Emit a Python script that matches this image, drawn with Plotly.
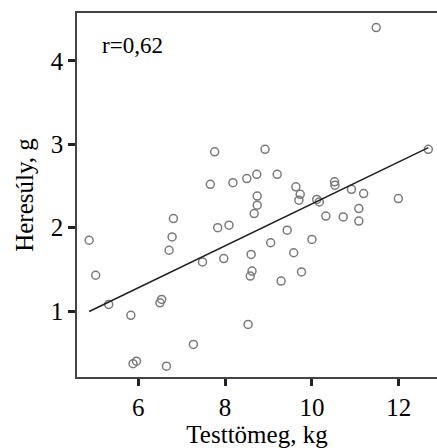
import numpy as np
import plotly.graph_objects as go

# Body mass (kg) and testis weight (g)
testtomeg = [4.87, 5.02, 5.32, 5.83, 5.88, 5.96, 6.65, 6.50, 6.54, 6.71, 6.78, 6.81,
             7.27, 7.48, 7.66, 7.76, 7.83, 7.97, 8.09, 8.18, 8.50, 8.53, 8.58, 8.62,
             8.60, 8.67, 8.74, 8.74, 8.73, 8.92, 9.05, 9.20, 9.29, 9.43, 9.58, 9.63,
             9.73, 9.70, 9.76, 10.00, 10.11, 10.17, 10.32, 10.52, 10.53, 10.72, 10.91,
             11.08, 11.08, 11.19, 11.48, 11.99, 12.68]
heresuly = [1.85, 1.43, 1.08, 0.95, 0.37, 0.40, 0.34, 1.10, 1.14, 1.73, 1.89, 2.11,
            0.60, 1.59, 2.52, 2.91, 2.00, 1.63, 2.03, 2.54, 2.59, 0.84, 1.42, 1.48,
            1.68, 2.17, 2.27, 2.38, 2.64, 2.94, 1.82, 2.64, 1.36, 1.97, 1.70, 2.49,
            2.40, 2.33, 1.47, 1.86, 2.34, 2.31, 2.14, 2.55, 2.51, 2.13, 2.46,
            2.23, 2.08, 2.41, 4.40, 2.35, 2.94]
x_ticks = [6, 8, 10, 12]
y_ticks = [1, 2, 3, 4]
r_label = "r=0,62"

xa = np.array(testtomeg)
ya = np.array(heresuly)
slope, intercept = np.polyfit(xa, ya, 1)
xl = np.array([xa.min(), xa.max()])
yl = intercept + slope * xl

font = "Liberation Serif, Times New Roman, serif"

fig = go.Figure()
fig.add_trace(go.Scatter(x=xa, y=ya, mode="markers",
                         marker=dict(symbol="circle-open", size=8, color="#7a7a7a",
                                     line=dict(width=1.5, color="#7a7a7a")),
                         showlegend=False, hoverinfo="skip"))
fig.add_trace(go.Scatter(x=xl, y=yl, mode="lines",
                         line=dict(color="#222222", width=1.6),
                         showlegend=False, hoverinfo="skip"))

fig.add_annotation(x=0.064, y=0.912, xref="paper", yref="paper", text=r_label,
                   showarrow=False, xanchor="left", yanchor="middle",
                   font=dict(family=font, size=23, color="black"))

fig.update_layout(
    width=437, height=448,
    margin=dict(l=77, r=0, t=13, b=71),
    paper_bgcolor="white", plot_bgcolor="white",
    font=dict(family=font, color="black"),
    xaxis=dict(range=[4.59, 12.88], tickvals=x_ticks, ticks="outside", ticklen=7,
               tickwidth=2.5, tickcolor="#222", showgrid=False, zeroline=False,
               showline=True, linecolor="#444", linewidth=1.6, mirror=True,
               tickfont=dict(size=25, family=font),
               title=dict(text="Testtömeg, kg", font=dict(size=25, family=font), standoff=2)),
    yaxis=dict(range=[0.21, 4.575], tickvals=y_ticks, ticks="outside", ticklen=7,
               tickwidth=2.5, tickcolor="#222", showgrid=False, zeroline=False,
               showline=True, linecolor="#444", linewidth=1.6, mirror=False,
               tickfont=dict(size=25, family=font),
               title=dict(text="Heresúly, g", font=dict(size=25, family=font), standoff=10)),
)

fig.write_html("out.html")
